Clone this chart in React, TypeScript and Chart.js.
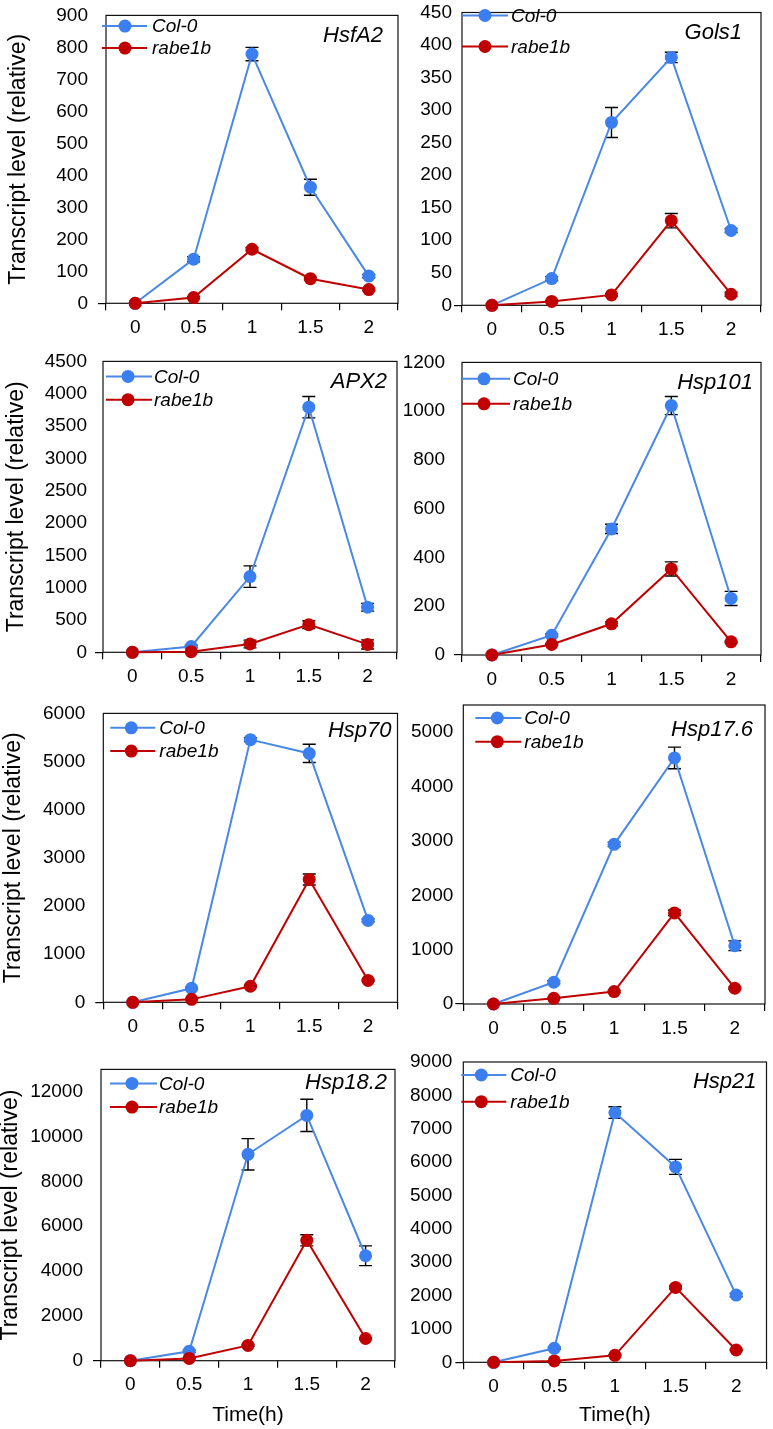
import React, { useEffect, useRef } from 'react';
import { Chart, registerables } from 'chart.js';

Chart.register(...registerables);

const timeLabels = ['0', '0.5', '1', '1.5', '2'];
const seriesNames = ['Col-0', 'rabe1b'];
const xAxisTitle = 'Time(h)';
const yAxisTitle = 'Transcript level (relative)';

const hsfA2Col = [0, 138, 779, 363, 85];
const hsfA2ColErr = [0, 8, 21, 25, 5];
const hsfA2Rabe = [0, 18, 169, 77, 43];
const hsfA2RabeErr = [0, 3, 5, 4, 4];
const hsfA2Ticks = [0, 100, 200, 300, 400, 500, 600, 700, 800, 900];

const gols1Col = [0, 41, 281, 381, 115];
const gols1ColErr = [0, 3, 23, 8, 3];
const gols1Rabe = [0, 6, 16, 130, 17];
const gols1RabeErr = [0, 1, 2, 11, 3];
const gols1Ticks = [0, 50, 100, 150, 200, 250, 300, 350, 400, 450];

const apx2Col = [0, 90, 1171, 3792, 697];
const apx2ColErr = [0, 20, 166, 166, 60];
const apx2Rabe = [0, 10, 128, 428, 122];
const apx2RabeErr = [0, 0, 60, 60, 70];
const apx2Ticks = [0, 500, 1000, 1500, 2000, 2500, 3000, 3500, 4000, 4500];

const hsp101Col = [0, 81, 517, 1023, 232];
const hsp101ColErr = [0, 5, 19, 37, 29];
const hsp101Rabe = [0, 43, 128, 353, 54];
const hsp101RabeErr = [0, 3, 8, 29, 4];
const hsp101Ticks = [0, 200, 400, 600, 800, 1000, 1200];

const hsp70Col = [0, 290, 5455, 5169, 1700];
const hsp70ColErr = [0, 20, 40, 190, 30];
const hsp70Rabe = [0, 61, 333, 2551, 455];
const hsp70RabeErr = [0, 5, 20, 115, 20];
const hsp70Ticks = [0, 1000, 2000, 3000, 4000, 5000, 6000];

const hsp176Col = [0, 400, 2937, 4526, 1071];
const hsp176ColErr = [0, 30, 40, 200, 90];
const hsp176Rabe = [0, 105, 228, 1675, 290];
const hsp176RabeErr = [0, 5, 20, 50, 20];
const hsp176Ticks = [0, 1000, 2000, 3000, 4000, 5000];

const hsp182Col = [0, 420, 9212, 10946, 4684];
const hsp182ColErr = [0, 50, 700, 720, 440];
const hsp182Rabe = [0, 100, 680, 5373, 990];
const hsp182RabeErr = [0, 20, 40, 250, 40];
const hsp182Ticks = [0, 2000, 4000, 6000, 8000, 10000, 12000];

const hsp21Col = [0, 419, 7485, 5856, 2015];
const hsp21ColErr = [0, 30, 175, 225, 50];
const hsp21Rabe = [0, 40, 210, 2245, 368];
const hsp21RabeErr = [0, 5, 20, 40, 20];
const hsp21Ticks = [0, 1000, 2000, 3000, 4000, 5000, 6000, 7000, 8000, 9000];

const FONT = "'Liberation Sans', Arial, Helvetica, sans-serif";
const BLUE = '#3b7eef';
const BLUE_LINE = '#4a88e6';
const RED = '#c00000';

type Area = { l: number; t: number; r: number; b: number };
type PanelCfg = {
  gene: string;
  col: number[];
  colErr: number[];
  rabe: number[];
  rabeErr: number[];
  ticks: number[];
  max: number;
  area: Area;
  column: 0 | 1;
  tickGap: number;
  yTitle: boolean;
  yTitleX: number;
  xTitle: boolean;
  leg: { x0: number; x1: number; mx: number; tx: number; y0: number; y1: number };
  geneDx: number;
  geneDy: number;
};

const panels: PanelCfg[] = [
  {
    gene: 'HsfA2', col: hsfA2Col, colErr: hsfA2ColErr, rabe: hsfA2Rabe, rabeErr: hsfA2RabeErr, ticks: hsfA2Ticks,
    max: 900, area: { l: 106, t: 10, r: 398, b: 303.3 }, column: 0, tickGap: 18,
    yTitle: true, yTitleX: 19, xTitle: false,
    leg: { x0: -4, x1: 41, mx: 19, tx: 46, y0: 10.7, y1: 32.7 }, geneDx: 15, geneDy: 20,
  },
  {
    gene: 'Gols1', col: gols1Col, colErr: gols1ColErr, rabe: gols1Rabe, rabeErr: gols1RabeErr, ticks: gols1Ticks,
    max: 450, area: { l: 462, t: 12.5, r: 761, b: 305.3 }, column: 1, tickGap: 10,
    yTitle: false, yTitleX: 0, xTitle: false,
    leg: { x0: 0, x1: 46, mx: 23, tx: 49, y0: 3, y1: 34 }, geneDx: 19, geneDy: 20,
  },
  {
    gene: 'APX2', col: apx2Col, colErr: apx2ColErr, rabe: apx2Rabe, rabeErr: apx2RabeErr, ticks: apx2Ticks,
    max: 4500, area: { l: 103, t: 358.4, r: 397, b: 652.3 }, column: 0, tickGap: 16,
    yTitle: true, yTitleX: 17, xTitle: false,
    leg: { x0: 3, x1: 49, mx: 25, tx: 51, y0: 15, y1: 38.3 }, geneDx: 10, geneDy: 20,
  },
  {
    gene: 'Hsp101', col: hsp101Col, colErr: hsp101ColErr, rabe: hsp101Rabe, rabeErr: hsp101RabeErr, ticks: hsp101Ticks,
    max: 1200, area: { l: 462, t: 358.6, r: 761, b: 655 }, column: 1, tickGap: 17,
    yTitle: false, yTitleX: 0, xTitle: false,
    leg: { x0: 0, x1: 48, mx: 22, tx: 51, y0: 16.4, y1: 41.4 }, geneDx: 8, geneDy: 20,
  },
  {
    gene: 'Hsp70', col: hsp70Col, colErr: hsp70ColErr, rabe: hsp70Rabe, rabeErr: hsp70RabeErr, ticks: hsp70Ticks,
    max: 6000, area: { l: 103.3, t: 708.3, r: 397.5, b: 1002.3 }, column: 0, tickGap: 18,
    yTitle: true, yTitleX: 14, xTitle: false,
    leg: { x0: 7, x1: 52, mx: 28, tx: 56, y0: 14.4, y1: 37.7 }, geneDx: 6, geneDy: 17,
  },
  {
    gene: 'Hsp17.6', col: hsp176Col, colErr: hsp176ColErr, rabe: hsp176Rabe, rabeErr: hsp176RabeErr, ticks: hsp176Ticks,
    max: 5500, area: { l: 463.3, t: 705, r: 765, b: 1004 }, column: 1, tickGap: 10,
    yTitle: false, yTitleX: 0, xTitle: false,
    leg: { x0: 12, x1: 58, mx: 34, tx: 61, y0: 13, y1: 36.7 }, geneDx: 12, geneDy: 25,
  },
  {
    gene: 'Hsp18.2', col: hsp182Col, colErr: hsp182ColErr, rabe: hsp182Rabe, rabeErr: hsp182RabeErr, ticks: hsp182Ticks,
    max: 13000, area: { l: 101, t: 1064, r: 395, b: 1360.7 }, column: 0, tickGap: 18,
    yTitle: true, yTitleX: 11, xTitle: true,
    leg: { x0: 9, x1: 56, mx: 31, tx: 58, y0: 14, y1: 37.7 }, geneDx: 8, geneDy: 13,
  },
  {
    gene: 'Hsp21', col: hsp21Col, colErr: hsp21ColErr, rabe: hsp21Rabe, rabeErr: hsp21RabeErr, ticks: hsp21Ticks,
    max: 9000, area: { l: 463.3, t: 1062, r: 768, b: 1362.3 }, column: 1, tickGap: 11,
    yTitle: false, yTitleX: 0, xTitle: true,
    leg: { x0: -2, x1: 43, mx: 18, tx: 47, y0: 13, y1: 39.7 }, geneDx: 10, geneDy: 20,
  },
];

const PAGE_H = 1429;

function geom(p: PanelCfg) {
  const cx = p.column === 0 ? 0 : 400;
  const cw = p.column === 0 ? 420 : 373;
  const cy = Math.floor(p.area.t - 16);
  const bottom = p.xTitle ? PAGE_H : Math.ceil(p.area.b + 48);
  return { cx, cy, cw, ch: bottom - cy };
}

function Panel({ p }: { p: PanelCfg }) {
  const ref = useRef<HTMLCanvasElement>(null);
  const g = geom(p);

  useEffect(() => {
    const canvas = ref.current;
    if (!canvas) return;
    const a = p.area;
    const tickLen = 8;
    const xTickLen = 7;

    const overlay = {
      id: 'overlay',
      beforeDatasetsDraw(chart: any) {
        const ctx = chart.ctx;
        const xs = chart.scales.x;
        const ys = chart.scales.y;
        const ca = chart.chartArea;
        ctx.save();
        ctx.strokeStyle = '#111';
        ctx.lineWidth = 1.2;
        ctx.strokeRect(ca.left, ca.top, ca.right - ca.left, ca.bottom - ca.top);
        ctx.strokeStyle = '#000';
        ctx.lineWidth = 1.4;
        const groups: [number[], number[]][] = [
          [p.col, p.colErr],
          [p.rabe, p.rabeErr],
        ];
        groups.forEach(([vals, errs]) => {
          vals.forEach((v, i) => {
            const e = errs[i];
            if (!e) return;
            const x = xs.getPixelForValue(i);
            const y1 = ys.getPixelForValue(v + e);
            const y2 = ys.getPixelForValue(Math.max(0, v - e));
            ctx.beginPath();
            ctx.moveTo(x, y1);
            ctx.lineTo(x, y2);
            ctx.moveTo(x - 6.5, y1);
            ctx.lineTo(x + 6.5, y1);
            ctx.moveTo(x - 6.5, y2);
            ctx.lineTo(x + 6.5, y2);
            ctx.stroke();
          });
        });
        ctx.restore();
      },
      afterDraw(chart: any) {
        const ctx = chart.ctx;
        const ca = chart.chartArea;
        ctx.save();
        const rows = [
          { name: seriesNames[0], y: ca.top + p.leg.y0, line: BLUE_LINE, fill: BLUE },
          { name: seriesNames[1], y: ca.top + p.leg.y1, line: RED, fill: RED },
        ];
        rows.forEach((r) => {
          ctx.strokeStyle = r.line;
          ctx.lineWidth = 2;
          ctx.beginPath();
          ctx.moveTo(ca.left + p.leg.x0, r.y);
          ctx.lineTo(ca.left + p.leg.x1, r.y);
          ctx.stroke();
          ctx.fillStyle = r.fill;
          ctx.beginPath();
          ctx.arc(ca.left + p.leg.mx, r.y, 6.5, 0, Math.PI * 2);
          ctx.fill();
          ctx.fillStyle = '#000';
          ctx.font = `italic 19px ${FONT}`;
          ctx.textAlign = 'left';
          ctx.textBaseline = 'middle';
          ctx.fillText(r.name, ca.left + p.leg.tx, r.y + 1);
        });
        ctx.font = `italic 22px ${FONT}`;
        ctx.textAlign = 'right';
        ctx.textBaseline = 'middle';
        ctx.fillStyle = '#000';
        ctx.fillText(p.gene, ca.right - p.geneDx, ca.top + p.geneDy);
        ctx.restore();
      },
    };

    const chart = new Chart(canvas, {
      type: 'line',
      data: {
        labels: timeLabels,
        datasets: [
          {
            label: seriesNames[0],
            data: p.col,
            borderColor: BLUE_LINE,
            backgroundColor: BLUE,
            pointBackgroundColor: BLUE,
            pointBorderColor: BLUE,
            pointRadius: 6.5,
            pointBorderWidth: 0,
            borderWidth: 2,
            tension: 0,
            clip: false as any,
            order: 1,
          },
          {
            label: seriesNames[1],
            data: p.rabe,
            borderColor: RED,
            backgroundColor: RED,
            pointBackgroundColor: RED,
            pointBorderColor: RED,
            pointRadius: 6.5,
            pointBorderWidth: 0,
            borderWidth: 2,
            tension: 0,
            clip: false as any,
            order: 0,
          },
        ],
      },
      options: {
        animation: false,
        responsive: false,
        maintainAspectRatio: false,
        devicePixelRatio: 1,
        events: [],
        layout: {
          padding: { left: 0, top: a.t - g.cy, right: g.cx + g.cw - a.r, bottom: 0 },
        },
        plugins: {
          legend: { display: false },
          tooltip: { enabled: false },
        },
        scales: {
          x: {
            type: 'category',
            offset: true,
            border: { display: false },
            grid: {
              display: true,
              offset: true,
              drawOnChartArea: false,
              drawTicks: true,
              tickLength: xTickLen,
              color: '#000',
              tickColor: '#000',
              lineWidth: 1.2,
            },
            ticks: {
              color: '#000',
              padding: 6,
              maxRotation: 0,
              autoSkip: false,
              font: { family: FONT, size: 19 },
            },
            title: {
              display: p.xTitle,
              text: xAxisTitle,
              color: '#000',
              font: { family: FONT, size: 21, lineHeight: 1 },
              padding: { top: 0, bottom: 3 },
            },
            afterFit(scale: any) {
              scale.height = g.cy + g.ch - a.b;
            },
          },
          y: {
            type: 'linear',
            min: 0,
            max: p.max,
            border: { display: false },
            grid: {
              display: true,
              drawOnChartArea: false,
              drawTicks: true,
              tickLength: tickLen,
              lineWidth: 1.2,
              color: 'rgba(0,0,0,0)',
              tickColor: (ctx: any) => (ctx.tick && ctx.tick.value === 0 ? '#000' : 'rgba(0,0,0,0)'),
            },
            afterBuildTicks(scale: any) {
              scale.ticks = p.ticks.map((v) => ({ value: v }));
            },
            ticks: {
              color: '#000',
              padding: Math.max(1, p.tickGap - tickLen),
              font: { family: FONT, size: 19 },
              callback: (v: any) => String(v),
            },
            title: {
              display: p.yTitle,
              text: yAxisTitle,
              color: '#000',
              font: { family: FONT, size: 23, lineHeight: 1 },
              padding: { top: p.yTitleX - 11.5, bottom: 0 },
            },
            afterFit(scale: any) {
              scale.width = a.l - g.cx;
            },
          },
        },
      } as any,
      plugins: [overlay],
    });

    return () => {
      chart.destroy();
    };
  }, []);

  return (
    <canvas
      ref={ref}
      width={g.cw}
      height={g.ch}
      style={{ position: 'absolute', left: g.cx, top: g.cy, width: g.cw, height: g.ch, display: 'block' }}
    />
  );
}

export default function App() {
  return (
    <div
      style={{
        position: 'absolute',
        left: 0,
        top: 0,
        width: 773,
        height: PAGE_H,
        background: '#fff',
        overflow: 'hidden',
      }}
    >
      {panels.map((p) => (
        <Panel key={p.gene} p={p} />
      ))}
    </div>
  );
}
